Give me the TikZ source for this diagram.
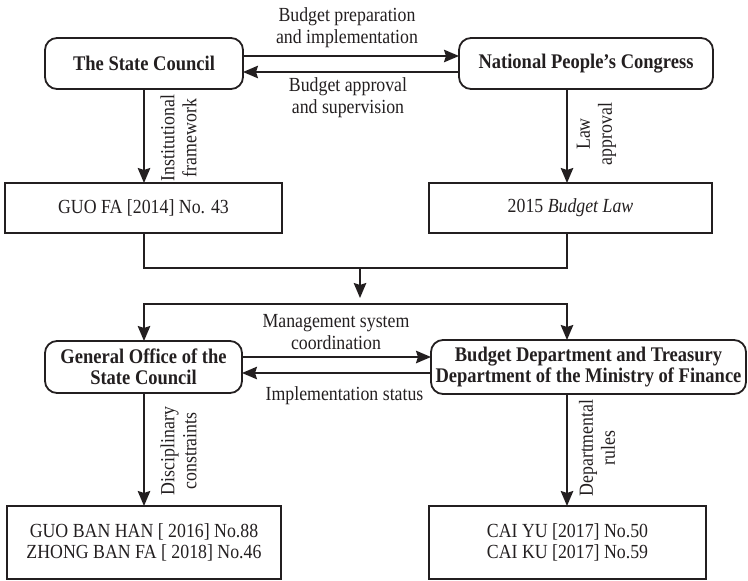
\documentclass[tikz,border=0pt]{standalone}
\usepackage{fontspec}
\setmainfont{Liberation Serif}[FakeStretch=0.89]
\usetikzlibrary{arrows.meta,calc}
\definecolor{ink}{RGB}{35,31,32}
\begin{document}
\begin{tikzpicture}[x=1pt,y=-1pt,
  every node/.style={inner sep=0pt, outer sep=0pt, text=ink},
  >={Stealth[length=15pt,width=12.5pt,inset=2pt]},
  rbox/.style={draw=ink, line width=1.8pt, rounded corners=12pt, align=center,
    font=\fontsize{20.8}{21}\selectfont\bfseries},
  sbox/.style={draw=ink, line width=1.8pt, align=center,
    font=\fontsize{20}{21}\selectfont},
  lbl/.style={align=center, font=\fontsize{20}{22}\selectfont},
  conn/.style={draw=ink, line width=1.8pt},
  arr/.style={conn, ->},
]
\useasboundingbox (0,0) rectangle (748,581);

% boxes
\node[rbox, minimum width=198pt, minimum height=51pt] (sc) at (144,63.5) {The State Council};
\node[rbox, minimum width=254pt, minimum height=51pt] (npc) at (586,63.5) {National People’s Congress};
\node[sbox, minimum width=277pt, minimum height=50pt] (guofa) at (143.5,208) {GUO FA [2014] No. 43};
\node[sbox, minimum width=283pt, minimum height=50pt] (law) at (570.5,208) {2015 \textit{Budget Law}};
\node[rbox, minimum width=197pt, minimum height=52pt] (gosc) at (143.5,367) {General Office of the\\State Council};
\node[rbox, minimum width=315pt, minimum height=54pt] (bdmf) at (588.5,367) {Budget Department and Treasury\\Department of the Ministry of Finance};
\node[sbox, minimum width=274pt, minimum height=73pt] (bl) at (144,542.5) {GUO BAN HAN [ 2016] No.88\\ZHONG BAN FA [ 2018] No.46};
\node[sbox, minimum width=277pt, minimum height=73pt] (br) at (567.5,542.5) {CAI YU [2017] No.50\\CAI KU [2017] No.59};

% helper coordinates
\coordinate (jl) at (144,268);
\coordinate (jr) at (567,268);
\coordinate (jm) at (360,268);
\coordinate (jt) at (360,298);
\coordinate (dl) at (144,304);
\coordinate (dr) at (567,304);

% connectors
\draw[arr] ([yshift=7.5pt]sc.east) -- ([yshift=7.5pt]npc.west);
\draw[arr] ([yshift=-8.5pt]npc.west) -- ([yshift=-8.5pt]sc.east);
\draw[arr] (sc.south -| jl) -- (guofa.north -| jl);
\draw[arr] (npc.south -| jr) -- (law.north -| jr);
\draw[conn] (guofa.south -| jl) -- (jl) -- (jr) -- (law.south -| jr);
\draw[arr] (jm) -- (jt);
\draw[conn, <->] (gosc.north -| dl) -- (dl) -- (dr) -- (bdmf.north -| dr);
\draw[arr] ([yshift=10pt]gosc.east) -- ([yshift=10pt]bdmf.west);
\draw[arr] ([yshift=-6pt]bdmf.west) -- ([yshift=-6pt]gosc.east);
\draw[arr] (gosc.south -| dl) -- (bl.north -| dl);
\draw[arr] (bdmf.south -| dr) -- (br.north -| dr);

% labels
\node[lbl] (l1) at (347,28) {Budget preparation\\and implementation};
\node[lbl] (l2) at (348,97.5) {Budget approval\\and supervision};
\node[lbl] (l3) at (336,332.5) {Management system\\coordination};
\node[lbl] (l4) at (344.5,396) {Implementation status};
\node[lbl, rotate=90] (l5) at (178.5,138) {Institutional\\framework};
\node[lbl, rotate=90] (l6) at (596.5,134) {Law\\approval};
\node[lbl, rotate=90] (l7) at (178.5,451) {Disciplinary\\constraints};
\node[lbl, rotate=90] (l8) at (597,448) {Departmental\\rules};
\end{tikzpicture}
\end{document}
